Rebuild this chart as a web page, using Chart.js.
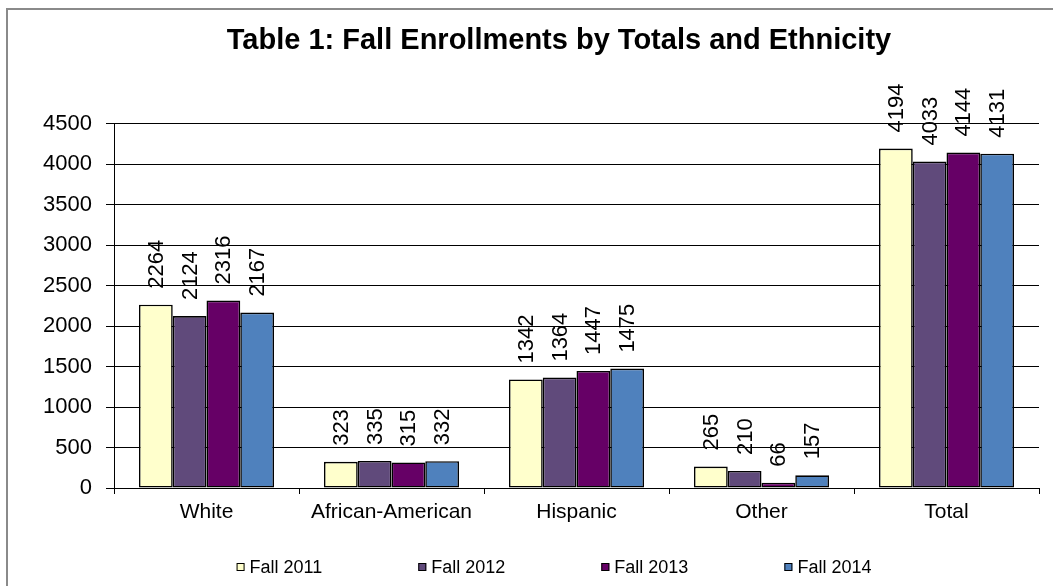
<!DOCTYPE html>
<html><head><meta charset="utf-8">
<script src="https://cdn.jsdelivr.net/npm/chart.js@4.4.0/dist/chart.umd.min.js"></script>
<style>html,body{margin:0;padding:0;background:#fff;overflow:hidden;width:1053px;height:586px}canvas{display:block}</style>
</head><body>
<canvas id="c" width="1100" height="586"></canvas>
<script>
const titleText = 'Table 1: Fall Enrollments by Totals and Ethnicity';
const categories = ['White', 'African-American', 'Hispanic', 'Other', 'Total'];
const seriesNames = ['Fall 2011', 'Fall 2012', 'Fall 2013', 'Fall 2014'];
const fall2011 = [2264, 323, 1342, 265, 4194];
const fall2012 = [2124, 335, 1364, 210, 4033];
const fall2013 = [2316, 315, 1447, 66, 4144];
const fall2014 = [2167, 332, 1475, 157, 4131];
const yTicks = [0, 500, 1000, 1500, 2000, 2500, 3000, 3500, 4000, 4500];
const seriesColors = ['#FFFFCC', '#604A7B', '#660066', '#4F81BD'];
const FONT = "'Liberation Sans', Arial, sans-serif";

const seriesValues = [fall2011, fall2012, fall2013, fall2014];

const borderPlugin = {
  id: 'frame',
  beforeDraw(chart) {
    const ctx = chart.ctx;
    ctx.save();
    ctx.fillStyle = '#fff';
    ctx.fillRect(0, 0, chart.width, chart.height);
    ctx.strokeStyle = '#8a8a8a';
    ctx.lineWidth = 2;
    ctx.strokeRect(7, 9, chart.width + 20, chart.height + 20);
    ctx.restore();
  }
};

const valueLabels = {
  id: 'valueLabels',
  afterDatasetsDraw(chart) {
    const ctx = chart.ctx;
    ctx.save();
    ctx.font = '22px ' + FONT;
    ctx.fillStyle = '#000';
    ctx.textAlign = 'left';
    ctx.textBaseline = 'middle';
    chart.data.datasets.forEach((ds, i) => {
      chart.getDatasetMeta(i).data.forEach((bar, j) => {
        ctx.save();
        ctx.translate(bar.x + 1, bar.y - 16);
        ctx.rotate(-Math.PI / 2);
        ctx.fillText(String(ds.data[j]), 0, 0);
        ctx.restore();
      });
    });
    ctx.restore();
  }
};

const bottomLegend = {
  id: 'bottomLegend',
  afterDraw(chart) {
    const ctx = chart.ctx;
    ctx.save();
    ctx.font = '18px ' + FONT;
    ctx.textBaseline = 'middle';
    ctx.textAlign = 'left';
    const box = 8, textGap = 5, itemGap = 96;
    const widths = chart.data.datasets.map(ds => box + textGap + ctx.measureText(ds.label).width);
    const total = widths.reduce((a, b) => a + b, 0) + itemGap * (widths.length - 1);
    const tb = chart.titleBlock;
    const center = (tb.left + tb.right) / 2 - 5;
    let x = center - total / 2;
    const y = chart.height - 19;
    chart.data.datasets.forEach((ds, i) => {
      ctx.fillStyle = ds.backgroundColor;
      ctx.fillRect(x, y - box / 2, box, box);
      ctx.strokeStyle = '#000';
      ctx.lineWidth = 1;
      ctx.strokeRect(x + 0.5, y - box / 2 + 0.5, box - 1, box - 1);
      ctx.fillStyle = '#000';
      ctx.fillText(ds.label, x + box + textGap, y + 1);
      x += widths[i] + itemGap;
    });
    ctx.restore();
  }
};

new Chart(document.getElementById('c'), {
  type: 'bar',
  data: {
    labels: categories,
    datasets: seriesNames.map((name, i) => ({
      label: name,
      data: seriesValues[i],
      backgroundColor: seriesColors[i],
      borderColor: '#000',
      borderWidth: 1.6,
      borderSkipped: false,
      categoryPercentage: 0.73,
      barPercentage: 1.0
    }))
  },
  options: {
    responsive: false,
    animation: false,
    devicePixelRatio: 1,
    layout: { padding: { left: 36, right: 18, top: 0, bottom: 60 } },
    plugins: {
      legend: { display: false },
      tooltip: { enabled: false },
      title: {
        display: true,
        text: titleText,
        color: '#000',
        font: { family: FONT, size: 29, weight: 'bold' },
        padding: { top: 24, bottom: 65 }
      }
    },
    scales: {
      x: {
        offset: true,
        grid: { offset: true, drawOnChartArea: false, drawTicks: true, tickLength: 6, color: '#000' },
        border: { display: true, color: '#000', width: 1 },
        ticks: { color: '#000', font: { family: FONT, size: 21 }, padding: 6, maxRotation: 0, autoSkip: false },
        afterFit(axis) { axis.height = 38; }
      },
      y: {
        min: 0,
        max: 4500,
        afterBuildTicks(axis) { axis.ticks = yTicks.map(v => ({ value: v })); },
        grid: { color: '#000', lineWidth: 1, tickLength: 8 },
        border: { display: true, color: '#000', width: 1 },
        ticks: { color: '#000', font: { family: FONT, size: 22 }, padding: 14, callback: v => String(v) },
        afterFit(axis) { axis.width = 78; }
      },
      pad: {
        position: 'right',
        display: true,
        grid: { display: false },
        border: { display: false },
        ticks: { display: false },
        afterFit(axis) { axis.width = 43; }
      }
    }
  },
  plugins: [borderPlugin, valueLabels, bottomLegend]
});
</script>
</body></html>
